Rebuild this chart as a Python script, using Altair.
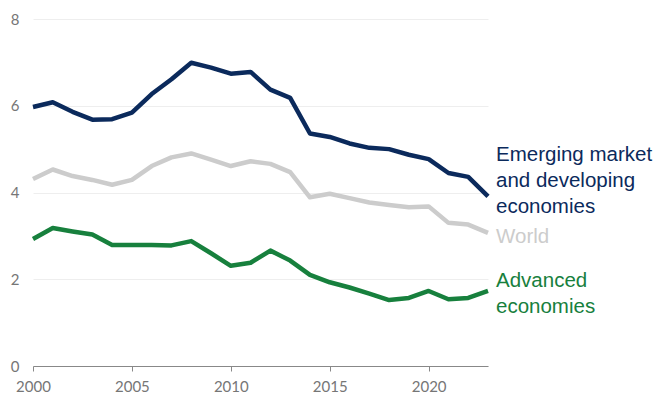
import altair as alt
import pandas as pd

years = list(range(2000, 2024))
emde = [5.97, 6.08, 5.86, 5.68, 5.69, 5.84, 6.27, 6.61, 6.99, 6.88, 6.74, 6.78,
        6.37, 6.18, 5.36, 5.28, 5.13, 5.03, 5.00, 4.87, 4.77, 4.45, 4.36, 3.91]
world = [4.31, 4.53, 4.38, 4.29, 4.18, 4.29, 4.61, 4.81, 4.90, 4.76, 4.61, 4.72,
         4.66, 4.47, 3.89, 3.97, 3.87, 3.77, 3.71, 3.66, 3.68, 3.30, 3.26, 3.07]
adv = [2.93, 3.18, 3.10, 3.03, 2.79, 2.79, 2.79, 2.78, 2.88, 2.60, 2.31, 2.38,
       2.66, 2.43, 2.10, 1.93, 1.81, 1.67, 1.52, 1.57, 1.73, 1.54, 1.57, 1.73]

series_names = ["World", "Emerging market and developing economies", "Advanced economies"]
series_values = [world, emde, adv]
series_colors = ["#cccccc", "#0b2a5c", "#17803d"]

label_texts = ["Emerging market\nand developing\neconomies", "World", "Advanced\neconomies"]
label_series = ["Emerging market and developing economies", "World", "Advanced economies"]
label_y = [4.73, 2.83, 1.83]

x_ticks = [2000, 2005, 2010, 2015, 2020]
y_ticks = [0, 2, 4, 6, 8]

rows = []
for name, vals in zip(series_names, series_values):
    for yr, v in zip(years, vals):
        rows.append({"year": yr, "value": v, "series": name})
df = pd.DataFrame(rows)

lab = pd.DataFrame({"text": label_texts, "series": label_series,
                    "year": [years[-1]] * 3, "value": label_y})

color_scale = alt.Scale(domain=series_names, range=series_colors)

x_enc = alt.X("year:Q",
              scale=alt.Scale(domain=[2000, 2023], nice=False, zero=False),
              axis=alt.Axis(values=x_ticks, format="d", title=None, grid=False,
                            domainColor="#888888", tickColor="#888888", tickSize=5,
                            labelFontSize=15, labelColor="#767676", labelFont="Lato",
                            labelPadding=8, labelFlush=False))
y_enc = alt.Y("value:Q",
              scale=alt.Scale(domain=[0, 8], nice=False),
              axis=alt.Axis(values=y_ticks, title=None, domain=False, ticks=False,
                            gridColor="#eeeeee", gridWidth=1,
                            labelFontSize=15, labelColor="#767676", labelFont="Lato",
                            labelPadding=14))

lines = alt.Chart(df).mark_line(strokeWidth=4.5, strokeJoin="round", strokeCap="butt").encode(
    x=x_enc, y=y_enc,
    color=alt.Color("series:N", scale=color_scale, legend=None),
    detail="series:N",
)

labels = alt.Chart(lab).mark_text(
    align="left", baseline="alphabetic", dx=8, fontSize=20.5,
    lineBreak="\n", lineHeight=26, font="Liberation Sans"
).encode(
    x="year:Q", y="value:Q", text="text:N",
    color=alt.Color("series:N", scale=color_scale, legend=None),
)

chart = alt.layer(lines, labels).properties(
    width=455, height=347,
    autosize=alt.AutoSizeParams(type="none"),
    padding={"left": 25, "top": 11, "right": 165, "bottom": 28},
).configure_view(stroke=None)

chart.save("out.html", embed_options={"renderer": "svg", "actions": False})
